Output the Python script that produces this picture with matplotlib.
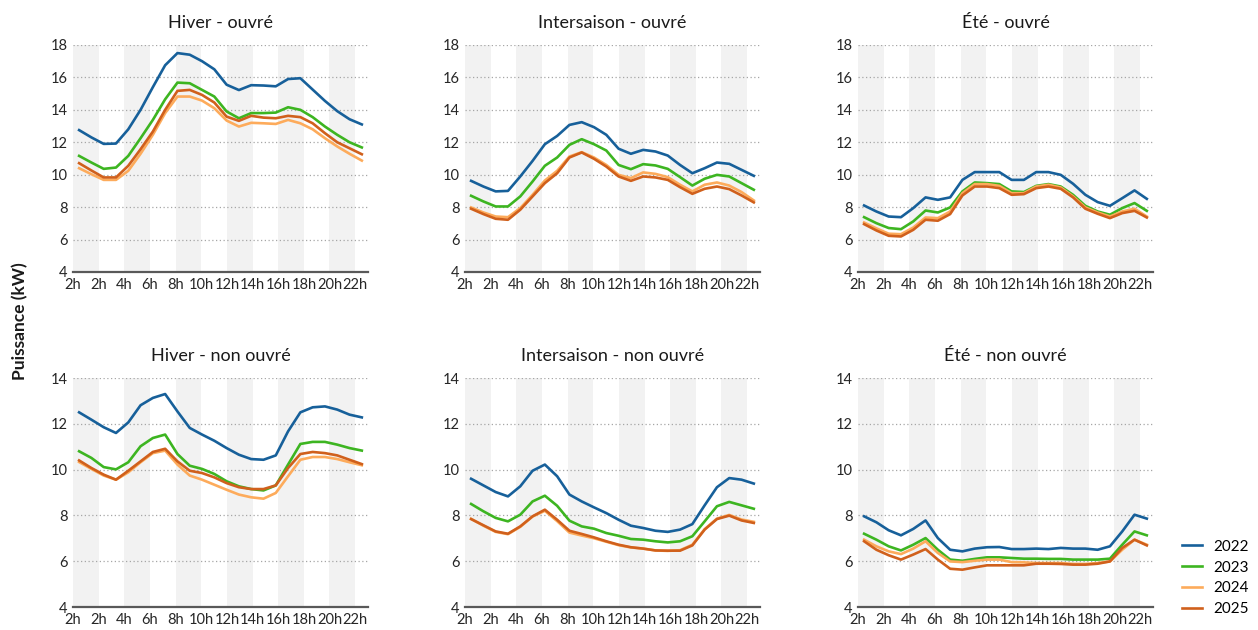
import numpy as np
import matplotlib
matplotlib.use("Agg")
import matplotlib.pyplot as plt

plt.rcParams['font.family'] = ['Lato', 'DejaVu Sans']

# --- données (puissance moyenne horaire, kW) ---
HOURS = list(range(24))
YEARS = ['2022', '2023', '2024', '2025']
COLORS = ['#17609a', '#3db521', '#fdab5b', '#d0601c']
TICK_LABELS = ['2h', '2h', '4h', '6h', '8h', '10h', '12h', '14h', '16h', '18h', '20h', '22h']

hiver_ouvre = {
    '2022': [12.75, 12.3, 11.9, 11.92, 12.8, 14.0, 15.4, 16.75, 17.5, 17.4, 17.0, 16.5,
             15.55, 15.22, 15.52, 15.5, 15.45, 15.9, 15.95, 15.25, 14.55, 13.92, 13.42, 13.1],
    '2023': [11.16, 10.75, 10.36, 10.44, 11.16, 12.25, 13.38, 14.65, 15.68, 15.64, 15.23, 14.82,
             13.9, 13.48, 13.8, 13.8, 13.83, 14.16, 14.0, 13.55, 12.97, 12.46, 12.0, 11.68],
    '2024': [10.4, 10.03, 9.68, 9.68, 10.24, 11.29, 12.46, 13.8, 14.82, 14.82, 14.57, 14.1,
             13.34, 12.97, 13.2, 13.17, 13.13, 13.38, 13.17, 12.8, 12.25, 11.74, 11.29, 10.87],
    '2025': [10.71, 10.26, 9.83, 9.83, 10.55, 11.57, 12.66, 14.0, 15.17, 15.23, 14.92, 14.45,
             13.58, 13.32, 13.63, 13.52, 13.48, 13.63, 13.55, 13.17, 12.56, 12.0, 11.63, 11.26],
}
inter_ouvre = {
    '2022': [9.62, 9.27, 8.97, 9.0, 9.89, 10.85, 11.88, 12.39, 13.07, 13.24, 12.93, 12.46,
             11.6, 11.29, 11.53, 11.43, 11.18, 10.6, 10.09, 10.4, 10.75, 10.67, 10.3, 9.93],
    '2023': [8.7, 8.35, 8.04, 8.04, 8.66, 9.58, 10.55, 11.06, 11.84, 12.19, 11.88, 11.49,
             10.6, 10.34, 10.65, 10.57, 10.36, 9.85, 9.33, 9.75, 9.99, 9.89, 9.48, 9.07],
    '2024': [7.98, 7.67, 7.42, 7.38, 7.94, 8.76, 9.64, 10.24, 11.12, 11.39, 11.06, 10.6,
             9.99, 9.79, 10.14, 10.05, 9.85, 9.38, 8.97, 9.38, 9.52, 9.33, 8.93, 8.41],
    '2025': [7.9, 7.57, 7.28, 7.22, 7.84, 8.66, 9.48, 10.09, 11.06, 11.37, 10.98, 10.5,
             9.89, 9.62, 9.89, 9.83, 9.68, 9.23, 8.82, 9.13, 9.27, 9.11, 8.72, 8.29],
}
ete_ouvre = {
    '2022': [8.1, 7.73, 7.42, 7.38, 7.94, 8.6, 8.45, 8.6, 9.68, 10.16, 10.16, 10.16,
             9.68, 9.68, 10.16, 10.16, 9.99, 9.44, 8.76, 8.31, 8.08, 8.55, 9.03, 8.51],
    '2023': [7.38, 7.01, 6.71, 6.64, 7.12, 7.79, 7.67, 7.98, 8.97, 9.52, 9.48, 9.42,
             8.97, 8.93, 9.31, 9.42, 9.27, 8.76, 8.08, 7.73, 7.53, 7.94, 8.25, 7.77],
    '2024': [7.05, 6.69, 6.36, 6.33, 6.74, 7.36, 7.32, 7.73, 8.86, 9.42, 9.42, 9.31,
             8.86, 8.86, 9.27, 9.38, 9.21, 8.66, 7.98, 7.67, 7.42, 7.73, 7.9, 7.42],
    '2025': [6.95, 6.56, 6.23, 6.19, 6.6, 7.22, 7.16, 7.57, 8.72, 9.27, 9.27, 9.17,
             8.76, 8.8, 9.17, 9.27, 9.13, 8.6, 7.9, 7.59, 7.32, 7.63, 7.77, 7.36],
}
hiver_non_ouvre = {
    '2022': [12.5, 12.18, 11.85, 11.6, 12.06, 12.81, 13.13, 13.3, 12.54, 11.82, 11.53, 11.26,
             10.94, 10.65, 10.46, 10.43, 10.62, 11.67, 12.5, 12.72, 12.76, 12.62, 12.4, 12.28],
    '2023': [10.8, 10.51, 10.11, 10.01, 10.32, 11.02, 11.38, 11.53, 10.68, 10.17, 10.03, 9.81,
             9.49, 9.27, 9.15, 9.09, 9.31, 10.22, 11.12, 11.21, 11.21, 11.09, 10.94, 10.83],
    '2024': [10.33, 10.03, 9.74, 9.56, 9.88, 10.32, 10.72, 10.83, 10.22, 9.74, 9.56, 9.34,
             9.12, 8.91, 8.79, 8.73, 8.98, 9.71, 10.43, 10.55, 10.55, 10.46, 10.32, 10.19],
    '2025': [10.4, 10.07, 9.78, 9.56, 9.95, 10.36, 10.77, 10.91, 10.36, 9.95, 9.85, 9.66,
             9.41, 9.23, 9.15, 9.15, 9.31, 10.07, 10.68, 10.77, 10.72, 10.62, 10.43, 10.24],
}
inter_non_ouvre = {
    '2022': [9.6, 9.31, 9.02, 8.83, 9.27, 9.95, 10.22, 9.71, 8.91, 8.61, 8.35, 8.1,
             7.81, 7.55, 7.45, 7.33, 7.28, 7.38, 7.62, 8.44, 9.23, 9.63, 9.56, 9.39],
    '2023': [8.5, 8.18, 7.89, 7.74, 8.03, 8.61, 8.86, 8.42, 7.77, 7.52, 7.42, 7.23,
             7.11, 6.97, 6.94, 6.87, 6.82, 6.87, 7.09, 7.74, 8.4, 8.59, 8.44, 8.29],
    '2024': [7.85, 7.55, 7.28, 7.18, 7.5, 7.95, 8.2, 7.75, 7.25, 7.12, 7.0, 6.85,
             6.7, 6.6, 6.55, 6.47, 6.45, 6.48, 6.72, 7.4, 7.86, 8.02, 7.82, 7.72],
    '2025': [7.84, 7.57, 7.3, 7.2, 7.52, 7.96, 8.25, 7.81, 7.33, 7.19, 7.04, 6.87,
             6.72, 6.61, 6.55, 6.47, 6.46, 6.46, 6.69, 7.38, 7.84, 7.99, 7.78, 7.67],
}
ete_non_ouvre = {
    '2022': [7.96, 7.7, 7.35, 7.13, 7.41, 7.78, 7.01, 6.5, 6.43, 6.55, 6.61, 6.62,
             6.53, 6.53, 6.55, 6.53, 6.58, 6.55, 6.55, 6.5, 6.65, 7.3, 8.03, 7.86],
    '2023': [7.2, 6.94, 6.65, 6.47, 6.72, 7.01, 6.5, 6.07, 6.02, 6.1, 6.17, 6.17,
             6.14, 6.11, 6.11, 6.1, 6.1, 6.07, 6.07, 6.07, 6.11, 6.72, 7.3, 7.13],
    '2024': [6.94, 6.65, 6.43, 6.31, 6.55, 6.87, 6.36, 5.99, 5.96, 6.02, 6.07, 6.07,
             5.96, 5.95, 5.92, 5.92, 5.92, 5.88, 5.88, 5.92, 5.99, 6.5, 6.94, 6.72],
    '2025': [6.87, 6.5, 6.26, 6.07, 6.29, 6.53, 6.07, 5.67, 5.63, 5.73, 5.82, 5.82,
             5.82, 5.82, 5.89, 5.89, 5.88, 5.85, 5.85, 5.89, 5.99, 6.58, 6.94, 6.69],
}

PANELS = [
    ('Hiver - ouvré', hiver_ouvre, 18),
    ('Intersaison - ouvré', inter_ouvre, 18),
    ('Été - ouvré', ete_ouvre, 18),
    ('Hiver - non ouvré', hiver_non_ouvre, 14),
    ('Intersaison - non ouvré', inter_non_ouvre, 14),
    ('Été - non ouvré', ete_non_ouvre, 14),
]


def band_x(h):
    # les bandes et graduations couvrent 0..23 h sur toute la largeur de l'axe
    return -0.5 + h * 24 / 23


fig = plt.figure(figsize=(12.58, 6.30), dpi=100)
lefts = [0.058, 0.3696, 0.682]
rows = [(0.5683, 0.3603), (0.0365, 0.3635)]
axes = []

for k, (title, data, ymax) in enumerate(PANELS):
    r, c = divmod(k, 3)
    ax = fig.add_axes([lefts[c], rows[r][0], 0.2345, rows[r][1]])
    axes.append(ax)
    for h in range(0, 24, 4):
        ax.axvspan(band_x(h), band_x(min(h + 2, 23)), color='#f2f2f2', lw=0, zorder=0)
    for yr, col in zip(YEARS, COLORS):
        ax.plot(HOURS, data[yr], color=col, lw=1.9, zorder=3, label=yr)
    ax.set_xlim(-0.5, 23.5)
    ax.set_ylim(4, ymax)
    ax.set_yticks(np.arange(4, ymax + 1, 2))
    ax.set_xticks([band_x(h) for h in range(0, 24, 2)])
    ax.set_xticklabels(TICK_LABELS)
    ax.grid(axis='y', linestyle=(0, (1, 2)), color='#a6a6a6', lw=0.9, zorder=1)
    ax.set_axisbelow(True)
    for s in ['top', 'right', 'left']:
        ax.spines[s].set_visible(False)
    ax.spines['bottom'].set_color('#595959')
    ax.spines['bottom'].set_linewidth(1.6)
    ax.tick_params(length=0, labelsize=10.5, colors='#262626', pad=4)
    ax.set_title(title, fontsize=13, color='#1a1a1a', pad=12)

fig.text(0.016, 0.49, 'Puissance (kW)', rotation=90, fontsize=12.5,
         fontweight='bold', ha='center', va='center', color='#1a1a1a')

handles, labels = axes[0].get_legend_handles_labels()
fig.legend(handles, labels, loc='lower right', bbox_to_anchor=(1.004, 0.0),
           frameon=False, fontsize=11, handlelength=1.3, handletextpad=0.8,
           labelspacing=0.45)

fig.savefig('out.png', dpi=100)
